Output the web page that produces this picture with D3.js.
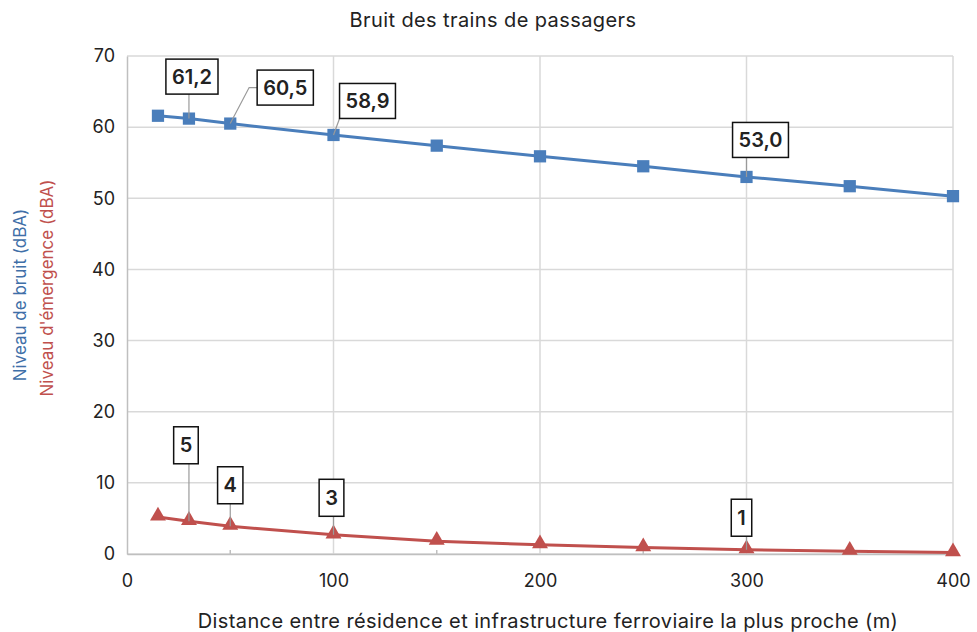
<html>
  <head>
    <meta charset="UTF-8">
    <title>Bruit des trains de passagers</title>
    <style type="text/css">
      body { margin: 0; background-color: #fff; }
      svg { font-family: "Inter", "DejaVu Sans", sans-serif; }
      .grid line { stroke: #d9d9d9; stroke-width: 1.5px; }
      .axis text { fill: #222; font-size: 18px; font-family: "Inter", sans-serif; }
      .axis path, .axis line { stroke: #bfbfbf; stroke-width: 1.5px; }
      .lbl rect { fill: #fff; stroke: #111; stroke-width: 1.5px; }
      .lbl text { fill: #222; font-size: 20px; font-weight: 600; }
      .leader { stroke: #9a9a9a; stroke-width: 1.2px; fill: none; }
      .title { font-size: 20px; letter-spacing: 0.4px; fill: #222; }
    </style>
    <script src="https://cdn.jsdelivr.net/npm/d3@7"></script>
  </head>
  <body>
    <div id="chart"></div>
    <script type="text/javascript">

      // data
      var distances = [15, 30, 50, 100, 150, 200, 250, 300, 350, 400];
      var bruit = [61.6, 61.2, 60.5, 58.9, 57.4, 55.9, 54.5, 53.0, 51.7, 50.3];
      var emergence = [5.2, 4.6, 3.9, 2.7, 1.8, 1.3, 0.9, 0.6, 0.4, 0.2];
      var bruitLabelled = [1, 2, 3, 7];
      var emergenceLabelled = [1, 2, 3, 7];
      var xTicks = [0, 100, 200, 300, 400];
      var yTicks = [0, 10, 20, 30, 40, 50, 60, 70];

      // label box placement (offset of box centre from the point, px)
      var bruitOffsets = [[3, -42, "bottom"], [55, -36, "left"], [34, -34, "bottom"], [14, -37, "bottom"]];
      var emergenceOffsets = [[-3, -76, "bottom"], [0, -41, "bottom"], [-2, -37, "bottom"], [-5, -32, "bottom"]];

      var width = 977, height = 632;
      var mLeft = 127, mRight = 953, mTop = 56, mBottom = 554;
      var blue = "#4a7ebb", red = "#c0504d";

      var svg = d3.select("#chart").append("svg")
        .attr("width", width).attr("height", height);

      var xScale = d3.scaleLinear().domain([0, 400]).range([mLeft, mRight]);
      var yScale = d3.scaleLinear().domain([0, 70]).range([mBottom, mTop]);

      // grid
      var grid = svg.append("g").attr("class", "grid");
      grid.selectAll(".hg").data(yTicks).enter().append("line")
        .attr("x1", mLeft).attr("x2", mRight)
        .attr("y1", function(d) { return yScale(d); })
        .attr("y2", function(d) { return yScale(d); });
      grid.selectAll(".vg").data(xTicks.slice(1)).enter().append("line")
        .attr("y1", mTop).attr("y2", mBottom)
        .attr("x1", function(d) { return xScale(d); })
        .attr("x2", function(d) { return xScale(d); });

      // axes
      var xAxis = d3.axisBottom(xScale).tickValues(xTicks).tickSize(0).tickPadding(20);
      var yAxis = d3.axisLeft(yScale).tickValues(yTicks).tickSize(0).tickPadding(12);
      svg.append("g").attr("class", "axis").attr("transform", "translate(0," + mBottom + ")").call(xAxis);
      svg.append("g").attr("class", "axis").attr("transform", "translate(" + mLeft + ",0)").call(yAxis);
      // small inner ticks every 50
      svg.append("g").attr("class", "axis").selectAll("line").data(d3.range(50, 400, 100)).enter().append("line")
        .attr("x1", function(d) { return xScale(d); }).attr("x2", function(d) { return xScale(d); })
        .attr("y1", mBottom - 4).attr("y2", mBottom);

      // series
      function drawSeries(values, color, shape) {
        var pts = distances.map(function(d, i) { return [d, values[i]]; });
        svg.append("path").datum(pts)
          .attr("fill", "none").attr("stroke", color).attr("stroke-width", 3)
          .attr("d", d3.line().x(function(d) { return xScale(d[0]); }).y(function(d) { return yScale(d[1]); }));
        svg.append("g").selectAll("path").data(pts).enter().append("path")
          .attr("d", d3.symbol().type(shape).size(shape === d3.symbolSquare ? 150 : 110))
          .attr("fill", color)
          .attr("transform", function(d) {
            var dy = shape === d3.symbolTriangle ? -1 : 0;
            return "translate(" + xScale(d[0]) + "," + (yScale(d[1]) + dy) + ")";
          });
      }
      drawSeries(emergence, red, d3.symbolTriangle);
      drawSeries(bruit, blue, d3.symbolSquare);

      // data labels
      var fmtDec = d3.formatLocale({ decimal: ",", thousands: " ", grouping: [3], currency: ["", " €"] }).format(".1f");
      function drawLabels(values, idx, offsets, fmt, h) {
        idx.forEach(function(i, k) {
          var px = xScale(distances[i]), py = yScale(values[i]);
          var cx = px + offsets[k][0], cy = py + offsets[k][1];
          var g = svg.append("g").attr("class", "lbl");
          var t = g.append("text").attr("x", cx).attr("y", cy).attr("text-anchor", "middle")
            .attr("dominant-baseline", "central").text(fmt(values[i]));
          var bb = t.node().getBBox();
          var w = bb.width + 12;
          var x0 = cx - w / 2, y0 = cy - h / 2;
          var lead;
          if (offsets[k][2] === "left") {
            lead = [[px, py], [x0 - 8, cy], [x0, cy]];
          } else {
            lead = [[px, py], [Math.max(x0, Math.min(x0 + w, px)), y0 + h]];
          }
          svg.insert("path", ".lbl").attr("class", "leader").attr("d", d3.line()(lead));
          g.insert("rect", "text").attr("x", x0).attr("y", y0).attr("width", w).attr("height", h);
        });
      }
      drawLabels(bruit, bruitLabelled, bruitOffsets, fmtDec, 35);
      drawLabels(emergence, emergenceLabelled, emergenceOffsets, function(v) { return d3.format(".0f")(v); }, 37);

      // titles
      svg.append("text").attr("class", "title").attr("x", 493).attr("y", 27).attr("text-anchor", "middle")
        .text("Bruit des trains de passagers");
      svg.append("text").attr("class", "title").attr("x", 548).attr("y", 628).attr("text-anchor", "middle")
        .text("Distance entre résidence et infrastructure ferroviaire la plus proche (m)");
      svg.append("text").attr("transform", "translate(26,295) rotate(-90)").attr("text-anchor", "middle")
        .attr("font-size", 17).attr("fill", "#3f6fa8").text("Niveau de bruit (dBA)");
      svg.append("text").attr("transform", "translate(53,288) rotate(-90)").attr("text-anchor", "middle")
        .attr("font-size", 17).attr("fill", red).text("Niveau d'émergence (dBA)");

    </script>
  </body>
</html>
